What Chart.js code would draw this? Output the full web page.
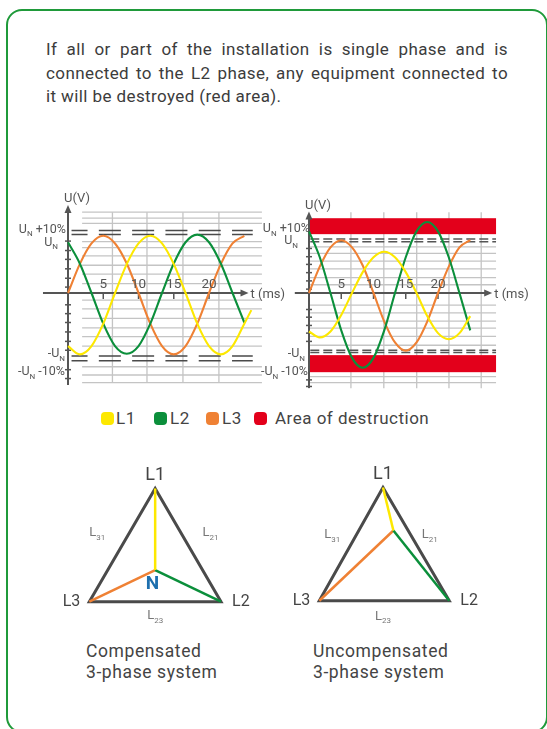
<!DOCTYPE html>
<html>
<head>
<meta charset="utf-8">
<script src="https://cdn.jsdelivr.net/npm/chart.js@4.4.0/dist/chart.umd.min.js"></script>
<style>
  html, body { margin: 0; padding: 0; background: #fff; }
  body { width: 547px; height: 729px; position: relative; overflow: hidden;
         font-family: Roboto, "DejaVu Sans", sans-serif; color: #3c3c3c; }
  .frame { position: absolute; left: 6px; top: 9px; width: 542px; height: 724px;
           border: 2.5px solid #1f9a3a; border-radius: 16px; box-sizing: border-box; }
  .para { position: absolute; left: 46px; top: 38px; width: 462px; font-size: 17px; letter-spacing: 0.4px; line-height: 23.5px; }
  .para .jl { text-align: justify; text-align-last: justify; }
  canvas { position: absolute; }
  .leg { position: absolute; font-size: 17px; line-height: 20px; color: #444; letter-spacing: 0.5px; }
  .sw { position: absolute; width: 13px; height: 13px; border-radius: 4px; }
  .cap { position: absolute; top: 641px; font-size: 17.5px; letter-spacing: 0.6px; line-height: 21px; color: #444; }
</style>
</head>
<body>
<div class="frame"></div>
<div class="para">
  <div class="jl">If all or part of the installation is single phase and is</div>
  <div class="jl">connected to the L2 phase, any equipment connected to</div>
  <div>it will be destroyed (red area).</div>
</div>

<canvas id="scopeComp" width="300" height="205" style="left:0;top:190px"></canvas>
<canvas id="scopeUncomp" width="297" height="205" style="left:250px;top:190px"></canvas>

<div id="legend"></div>

<canvas id="triComp" width="190" height="170" style="left:60px;top:460px"></canvas>
<canvas id="triUncomp" width="200" height="170" style="left:285px;top:460px"></canvas>

<div class="cap" style="left:86px">Compensated<br>3-phase system</div>
<div class="cap" style="left:313px">Uncompensated<br>3-phase system</div>

<script>
const RED = '#e3001b', YEL = '#fde800', GRN = '#0b8f3b', ORG = '#ef8134', INK = '#555';

// sample times in ms, voltages in units of U_N
const tSteps = [0, 1.67, 3.33, 5, 6.67, 8.33, 10, 11.67, 13.33, 15, 16.67, 18.33, 20, 21.67, 23.33, 25];
const tStepsL1 = [0, 1.67, 3.33, 5, 6.67, 8.33, 10, 11.67, 13.33, 15, 16.67, 18.33, 20, 21.67, 23.33, 25, 26];

const compL1 = [-0.9, -1.04, -0.9, -0.52, 0, 0.49, 0.84, 0.97, 0.84, 0.49, 0, -0.52, -0.9, -1.04, -0.9, -0.52, -0.29];
const compL2 = [0.86, 0.5, 0, -0.52, -0.9, -1.03, -0.9, -0.52, 0, 0.5, 0.86, 0.99, 0.86, 0.5, 0, -0.5];
const compL3 = [0, 0.49, 0.84, 0.97, 0.84, 0.5, 0, -0.52, -0.9, -1.04, -0.9, -0.52, 0, 0.49, 0.84, 0.97];

const uncompL1 = [-0.7, -0.81, -0.7, -0.4, 0, 0.38, 0.65, 0.75, 0.65, 0.38, 0, -0.42, -0.73, -0.84, -0.73, -0.42];
const uncompL2 = [1.12, 0.65, 0, -0.68, -1.18, -1.36, -1.18, -0.68, 0, 0.65, 1.12, 1.29, 1.12, 0.65, 0, -0.68];
const uncompL3 = [0, 0.48, 0.83, 0.96, 0.83, 0.5, 0, -0.52, -0.9, -1.05, -0.9, -0.52, 0, 0.48, 0.83, 0.96];

const timeTicks = [5, 10, 15, 20];

// U_N reference levels (dashed) and destruction zones
const compLimits = [1.06, 0.99, -1.07, -1.15];
const uncompLimits = [0.98, 0.93, -1.04, -1.08];
const destructTop = [1.07, 1.36];
const destructBottom = [-1.13, -1.44];

// phasor diagrams: L1, L2, L3, N
const triNodes = ['L1', 'L2', 'L3', 'N'];
const compX = [0.5, 1, 0, 0.5];
const compY = [0.86, 0, 0, 0.24];
const uncompX = [0.49, 1, 0, 0.57];
const uncompY = [0.87, 0, 0, 0.54];

const legendNames = ['L1', 'L2', 'L3', 'Area of destruction'];
const legendColors = [YEL, GRN, ORG, RED];

function textRun(ctx, parts, x, y, align, size, color) {
  const sub = Math.round(size * 0.62);
  const fontFor = s => `${s ? sub : size}px Roboto, "DejaVu Sans", sans-serif`;
  let w = 0;
  parts.forEach(([s, isSub]) => { ctx.font = fontFor(isSub); w += ctx.measureText(s).width; });
  let cx = align === 'right' ? x - w : align === 'center' ? x - w / 2 : x;
  ctx.textAlign = 'left';
  ctx.textBaseline = 'middle';
  ctx.fillStyle = color || '#555';
  parts.forEach(([s, isSub]) => {
    ctx.font = fontFor(isSub);
    ctx.fillText(s, cx, isSub ? y + size * 0.38 : y);
    cx += ctx.measureText(s).width;
  });
}

const scopeDecor = {
  id: 'scopeDecor',
  beforeDatasetsDraw(chart, args, o) {
    const { ctx } = chart, X = v => chart.scales.x.getPixelForValue(v), Y = v => chart.scales.y.getPixelForValue(v);
    ctx.save();
    // light grid
    ctx.strokeStyle = '#c4c4c4';
    ctx.lineWidth = 1.3;
    o.gridV.forEach(t => { ctx.beginPath(); ctx.moveTo(X(t), Y(o.gridTop)); ctx.lineTo(X(t), Y(o.gridBottom)); ctx.stroke(); });
    o.gridH.forEach(v => { ctx.beginPath(); ctx.moveTo(X(o.gridFrom), Y(v)); ctx.lineTo(X(o.gridTo), Y(v)); ctx.stroke(); });
    // destruction bands
    if (o.bands) {
      ctx.fillStyle = RED;
      o.bands.forEach(b => ctx.fillRect(X(o.gridFrom), Y(b[1]), X(o.gridTo) - X(o.gridFrom), Y(b[0]) - Y(b[1])));
    }
    // dashed U_N levels
    ctx.strokeStyle = o.dashColor;
    ctx.lineWidth = 1.5;
    ctx.setLineDash(o.dash);
    ctx.lineDashOffset = o.dashOffset;
    o.limits.forEach(v => { ctx.beginPath(); ctx.moveTo(X(o.dashFrom), Y(v)); ctx.lineTo(X(o.dashTo), Y(v)); ctx.stroke(); });
    ctx.setLineDash([]);
    // axes
    const x0 = X(0), y0 = Y(0);
    ctx.strokeStyle = INK; ctx.fillStyle = INK; ctx.lineWidth = 2;
    ctx.beginPath(); ctx.moveTo(x0, Y(o.yAxis[1]) + 4); ctx.lineTo(x0, Y(o.yAxis[0])); ctx.stroke();
    ctx.beginPath(); ctx.moveTo(X(o.xAxis[0]), y0); ctx.lineTo(X(o.xAxis[1]) - 4, y0); ctx.stroke();
    ctx.beginPath(); ctx.moveTo(x0, Y(o.yAxis[1])); ctx.lineTo(x0 - 3.5, Y(o.yAxis[1]) + 8); ctx.lineTo(x0 + 3.5, Y(o.yAxis[1]) + 8); ctx.fill();
    ctx.beginPath(); ctx.moveTo(X(o.xAxis[1]), y0); ctx.lineTo(X(o.xAxis[1]) - 8, y0 - 3.5); ctx.lineTo(X(o.xAxis[1]) - 8, y0 + 3.5); ctx.fill();
    ctx.lineWidth = 1.5;
    o.yTicks.forEach(v => { ctx.beginPath(); ctx.moveTo(x0 - 3, Y(v)); ctx.lineTo(x0 + 3, Y(v)); ctx.stroke(); });
    timeTicks.forEach(t => { ctx.beginPath(); ctx.moveTo(X(t), y0); ctx.lineTo(X(t), y0 + 6); ctx.stroke(); });
    ctx.restore();
  },
  afterDraw(chart, args, o) {
    const { ctx } = chart, X = v => chart.scales.x.getPixelForValue(v), Y = v => chart.scales.y.getPixelForValue(v);
    ctx.save();
    const x0 = X(0), y0 = Y(0);
    textRun(ctx, [['U(V)', false]], x0 - 4, Y(o.yAxis[1]) - 6, 'left', 13);
    timeTicks.forEach(t => textRun(ctx, [[String(t), false]], X(t), y0 - 8, 'center', 13.5));
    textRun(ctx, [['t (ms)', false]], X(o.xAxis[1]) + 2, y0 + 2, 'left', 13);
    o.labels.forEach(l => textRun(ctx, l.parts, x0 + l.dx, Y(l.v) + l.dy, 'right', 12.5));
    ctx.restore();
  }
};

function makeScope(id, xr, yr, l1, l2, l3, o) {
  const pts = (ts, vs) => vs.map((v, i) => ({ x: ts[i], y: v }));
  const ds = (data, color) => ({ data, borderColor: color, borderWidth: 2.1, pointRadius: 0, fill: false, cubicInterpolationMode: 'monotone' });
  return new Chart(document.getElementById(id), {
    type: 'line',
    data: { datasets: [ds(pts(l1[0], l1[1]), YEL), ds(pts(tSteps, l2), GRN), ds(pts(tSteps, l3), ORG)] },
    options: {
      responsive: false, animation: false, events: [],
      layout: { padding: 0 },
      scales: {
        x: { type: 'linear', min: xr[0], max: xr[1], display: false },
        y: { min: yr[0], max: yr[1], display: false }
      },
      plugins: { legend: { display: false }, tooltip: { enabled: false }, scopeDecor: o }
    },
    plugins: [scopeDecor]
  });
}

const UN = (pre, post) => [[pre + 'U', false], ['N', true], [post, false]];

makeScope('scopeComp', [-9.645, 32.9], [-1.729, 1.746], [tStepsL1, compL1], compL2, compL3, {
  gridV: [6.3, 11.2, 16.3, 21.4], gridTop: 1.37, gridBottom: -1.52, gridFrom: 2, gridTo: 27.5,
  gridH: [0.16, 0.32, 0.47, 0.63, 0.77, 0.87, 1.18, 1.27, 1.37, -0.12, -0.27, -0.43, -0.59, -0.74, -0.9, -1.25, -1.39, -1.52],
  limits: compLimits, dash: [22, 11.3], dashOffset: 6, dashFrom: 0.5, dashTo: 26.2, dashColor: '#4a4a4a',
  yAxis: [-1.56, 1.49], xAxis: [-3.55, 25.6],
  yTicks: [0.1, 0.25, 0.41, 0.57, 0.72, 0.88, -0.2, -0.35, -0.5, -0.66, -0.82, -0.97, -1.3, -1.45],
  labels: [
    { parts: UN('', ' +10%'), v: 1.06, dx: -2, dy: -1 },
    { parts: UN('', ''), v: 0.99, dx: -10, dy: 8 },
    { parts: UN('-', ''), v: -1.07, dx: -3, dy: -2 },
    { parts: UN('-', ' -10%'), v: -1.15, dx: -3, dy: 11 }
  ]
});

makeScope('scopeUncomp', [-9.147, 36.9], [-1.855, 1.873], [tSteps, uncompL1], uncompL2, uncompL3, {
  gridV: [6.5, 11.6, 16.7, 21.7, 26.7], gridTop: 1.47, gridBottom: -1.73, gridFrom: 0.15, gridTo: 29,
  gridH: [0.15, 0.28, 0.44, 0.58, 0.72, 0.84, -0.22, -0.36, -0.51, -0.64, -0.79, -0.95, -1.52, -1.63],
  bands: [destructTop, destructBottom],
  limits: uncompLimits, dash: [9, 4], dashOffset: 0, dashFrom: 0.2, dashTo: 29, dashColor: '#555',
  yAxis: [-1.73, 1.48], xAxis: [-2.2, 28.4],
  yTicks: [0.07, 0.22, 0.37, 0.52, 0.66, 0.81, -0.3, -0.44, -0.59, -0.73, -0.88, -1.58, -1.7],
  labels: [
    { parts: UN('', ' +10%'), v: 1.36, dx: 1, dy: 11 },
    { parts: UN('', ''), v: 0.98, dx: -11, dy: 2 },
    { parts: UN('-', ''), v: -1.13, dx: -4, dy: -1 },
    { parts: UN('-', ' -10%'), v: -1.44, dx: -1, dy: 0 }
  ]
});

// legend
const legend = document.getElementById('legend');
const swX = [101, 154, 206, 254], txX = [116, 170, 222, 275];
legendNames.forEach((name, i) => {
  const sw = document.createElement('div');
  sw.className = 'sw';
  sw.style.cssText = `left:${swX[i]}px;top:412px;background:${legendColors[i]}`;
  legend.appendChild(sw);
  const tx = document.createElement('div');
  tx.className = 'leg';
  tx.style.cssText = `left:${txX[i]}px;top:408px`;
  tx.textContent = name;
  legend.appendChild(tx);
});

// phasor triangles
const triDecor = {
  id: 'triDecor',
  afterDraw(chart, args, o) {
    const { ctx } = chart, X = v => chart.scales.x.getPixelForValue(v), Y = v => chart.scales.y.getPixelForValue(v);
    ctx.save();
    const xs = o.xs, ys = o.ys;
    textRun(ctx, [['L1', false]], X(xs[0]), Y(ys[0]) - 13, 'center', 18, '#444');
    textRun(ctx, [['L2', false]], X(xs[1]) + 11, Y(ys[1]), 'left', 16, '#444');
    textRun(ctx, [['L3', false]], X(xs[2]) - 9, Y(ys[2]), 'right', 16, '#444');
    o.edges.forEach(e => textRun(ctx, [['L', false], [e.sub, true]], X(e.x), Y(e.y), 'center', 13, '#777'));
    if (o.nLabel) {
      ctx.font = 'bold 19px Roboto, "DejaVu Sans", sans-serif';
      ctx.fillStyle = '#1d6fae'; ctx.textAlign = 'center'; ctx.textBaseline = 'middle';
      ctx.fillText('N', X(o.nLabel[0]), Y(o.nLabel[1]));
    }
    ctx.restore();
  }
};

function makeTri(id, xr, yr, xs, ys, o) {
  const P = i => ({ x: xs[i], y: ys[i] });
  const seg = (data, color, w) => ({ data, borderColor: color, borderWidth: w, pointRadius: 0, showLine: true, fill: false, borderJoinStyle: 'miter', tension: 0 });
  return new Chart(document.getElementById(id), {
    type: 'scatter',
    data: {
      datasets: [
        seg([P(0), P(3)], YEL, 2.5),
        seg([P(3), P(1)], GRN, 2.5),
        seg([P(3), P(2)], ORG, 2.5),
        seg([P(0), P(1), P(2), P(0), P(1)], '#4a4a4a', 3)
      ]
    },
    options: {
      responsive: false, animation: false, events: [],
      layout: { padding: 0 },
      scales: {
        x: { type: 'linear', min: xr[0], max: xr[1], display: false },
        y: { min: yr[0], max: yr[1], display: false }
      },
      plugins: { legend: { display: false }, tooltip: { enabled: false }, triDecor: Object.assign({ xs, ys }, o) }
    },
    plugins: [triDecor]
  });
}

makeTri('triComp', [-0.2225, 1.22], [-0.215, 1.076], compX, compY, {
  edges: [{ sub: '31', x: 0.06, y: 0.52 }, { sub: '21', x: 0.92, y: 0.52 }, { sub: '23', x: 0.5, y: -0.11 }],
  nLabel: [0.48, 0.13]
});
makeTri('triUncomp', [-0.264, 1.275], [-0.225, 1.082], uncompX, uncompY, {
  edges: [{ sub: '31', x: 0.1, y: 0.505 }, { sub: '21', x: 0.85, y: 0.505 }, { sub: '23', x: 0.49, y: -0.12 }]
});
</script>
</body>
</html>
